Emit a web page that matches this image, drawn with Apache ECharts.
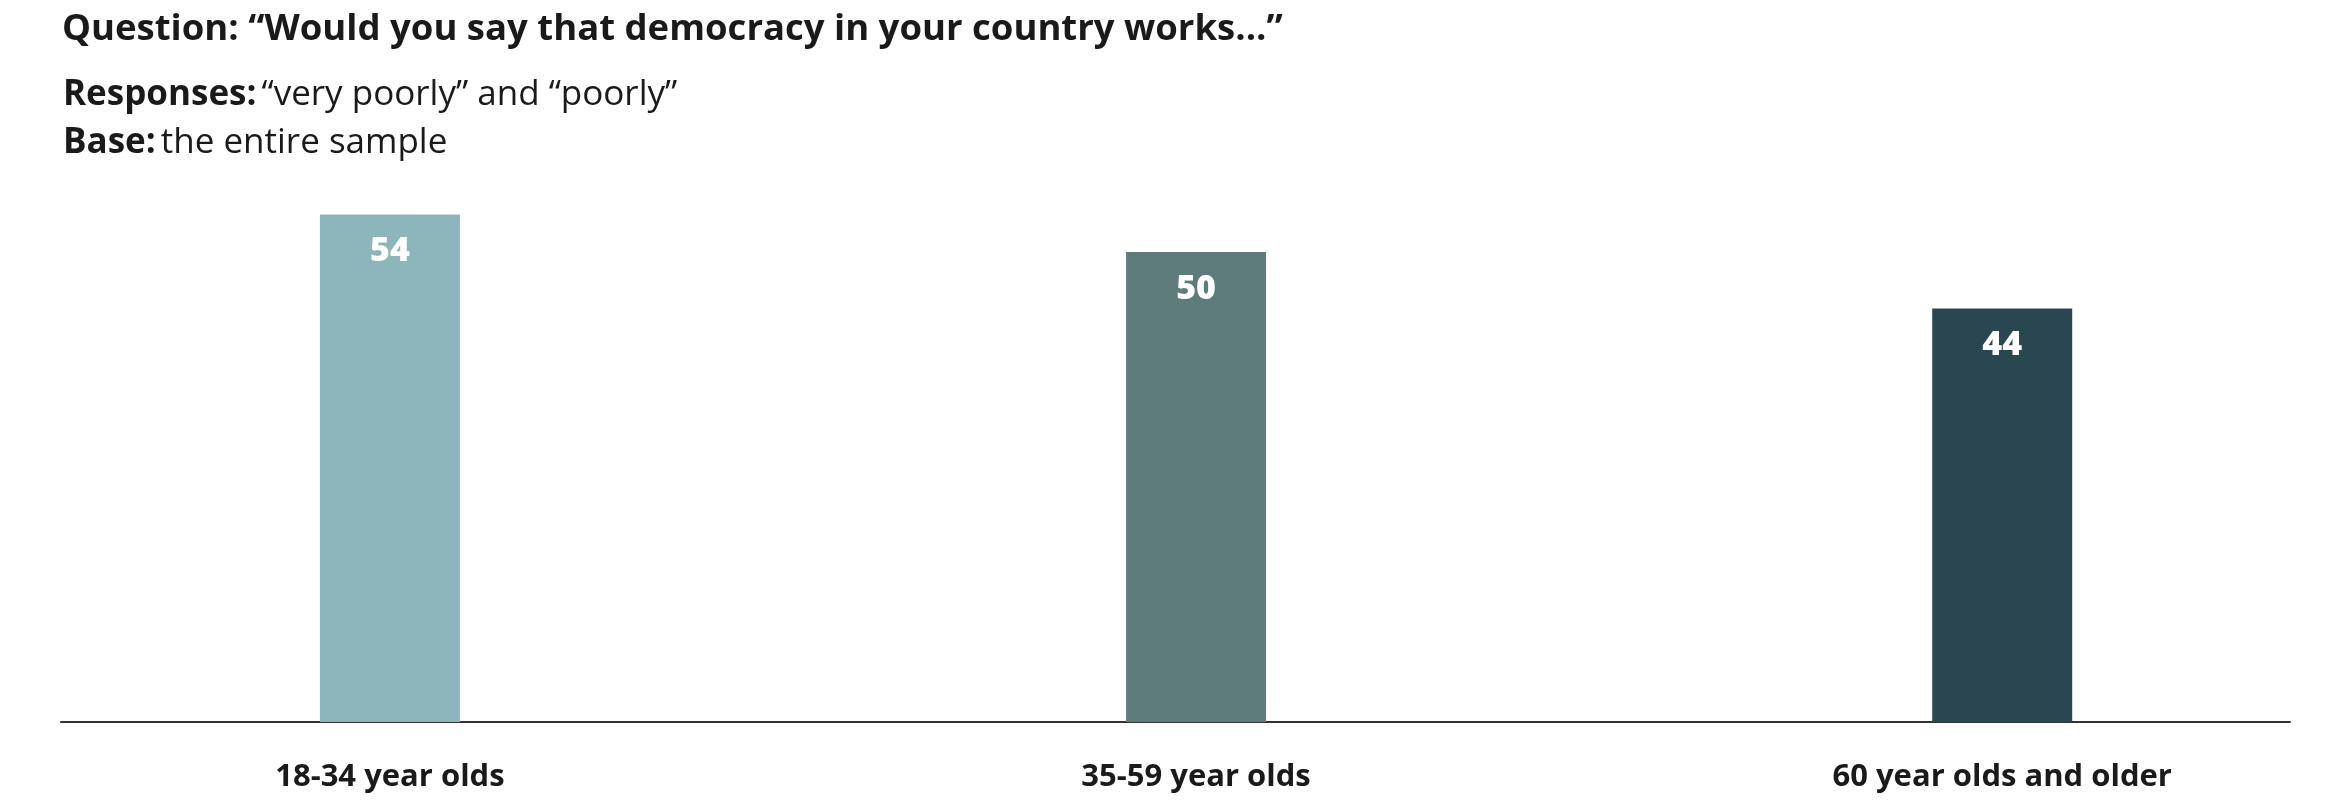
<!DOCTYPE html>
<html>
<head>
<meta charset="utf-8">
<script src="https://cdn.jsdelivr.net/npm/echarts@6/dist/echarts.min.js"></script>
<style>
    html, body {margin: 0; padding: 0; background: #fff;}
    #chart {width: 2348px; height: 807px;}
</style>
</head>
<body>
<div id="chart"></div>
<script>
/*
* 民主满意度 - 按年龄分组
* */
var categories = ['18-34 year olds', '35-59 year olds', '60 year olds and older'];
var values = [54, 50, 44];

var barColors = ['#8cb5bc', '#5f7c7d', '#2a4650'];
var fontName = '"Open Sans", "Noto Sans", sans-serif';

var myChart = echarts.init(document.getElementById('chart'));

var seriesData = [];
for (var n = 0; n < values.length; n++) {
    seriesData.push({
        value: [n, values[n]],
        itemStyle: {color: barColors[n]}
    });
}

var option = {
    backgroundColor: '#fff',
    animation: false,
    title: [
        {
            text: '{b|Question: “Would you say that democracy in your country works...”}',
            left: 57,
            top: 6,
            textStyle: {
                rich: {
                    b: {fontFamily: fontName, fontWeight: 'bold', fontSize: 36.5, color: '#1a1a1a'}
                }
            }
        },
        {
            text: '{b|Responses:} {n|“very poorly” and “poorly”}\n{b|Base:} {n|the entire sample}',
            left: 58,
            top: 66,
            textStyle: {
                lineHeight: 48,
                rich: {
                    b: {fontFamily: fontName, fontWeight: 'bold', fontSize: 35, color: '#1a1a1a', lineHeight: 48},
                    n: {fontFamily: fontName, fontWeight: 'normal', fontSize: 35, color: '#1a1a1a', lineHeight: 48}
                }
            }
        }
    ],
    grid: {
        left: 61,
        right: 58,
        top: 158,
        bottom: 85
    },
    xAxis: {
        type: 'value',
        min: -0.408,
        max: 2.357,
        splitLine: {show: false},
        axisTick: {show: false},
        axisLine: {
            show: true,
            lineStyle: {color: '#333', width: 2}
        },
        axisLabel: {
            customValues: [0, 1, 2],
            margin: 40,
            color: '#1a1a1a',
            fontFamily: fontName,
            fontWeight: 'bold',
            fontSize: 31,
            formatter: function (v) {
                return categories[Math.round(v)] || '';
            }
        }
    },
    yAxis: {
        type: 'value',
        min: 0,
        max: 60,
        show: false,
        splitLine: {show: false}
    },
    series: [
        {
            type: 'bar',
            barWidth: 140,
            data: seriesData,
            label: {
                show: true,
                position: 'insideTop',
                distance: 20,
                color: '#fff',
                fontFamily: fontName,
                fontWeight: 800,
                fontSize: 34,
                formatter: function (p) {
                    return p.value[1];
                }
            }
        }
    ]
};

myChart.setOption(option);
</script>
</body>
</html>
